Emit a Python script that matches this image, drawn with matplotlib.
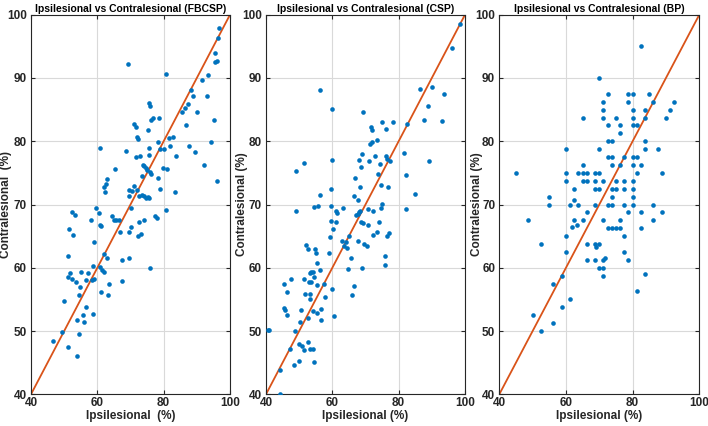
import numpy as np
import matplotlib.pyplot as plt

plt.rcParams['font.family'] = ['Liberation Sans', 'DejaVu Sans']

# ---- data ----
# FBCSP
fbcsp_ipsi = [96.6, 96.3, 95.6, 95.6, 96.2, 69.3, 80.7, 93.4, 91.5, 88.2, 88.7, 93.0, 87.4, 86.4, 85.5,
              90.1, 75.5, 75.9, 76.8, 76.1, 78.5, 71.1, 71.8, 75.2, 86.8, 95.1, 82.7, 81.7, 71.9, 72.3,
              78.4, 60.9, 75.5, 78.9, 87.7, 94.3, 81.9, 80.1, 68.7, 89.4, 75.6, 72.8, 71.8, 83.8, 92.1,
              73.7, 74.2, 74.6, 65.3, 79.9, 81.1, 75.0, 75.8, 76.3, 96.2, 73.5, 78.4, 63.0, 62.6, 61.9,
              62.2, 71.0, 79.0, 83.4, 69.6, 70.5, 72.1, 69.5, 73.4, 74.2, 75.2, 74.6, 72.5, 75.6, 59.7,
              60.4, 52.4, 53.2, 58.1, 60.7, 61.0, 64.3, 64.9, 65.5, 66.5, 70.0, 77.3, 77.9, 80.7, 74.1,
              72.6, 70.2, 51.6, 52.8, 66.9, 69.5, 72.2, 73.3, 58.9, 51.2, 61.9, 63.0, 67.5, 69.4, 58.8,
              60.8, 61.3, 61.9, 75.9, 51.8, 51.1, 52.5, 53.6, 55.2, 57.2, 56.6, 58.5, 58.9, 54.7, 63.4,
              67.4, 61.0, 63.3, 54.5, 50.0, 56.5, 58.8, 55.6, 53.9, 56.0, 49.3, 54.4, 46.6, 51.1, 53.9]
fbcsp_contra = [97.9, 96.3, 94.0, 92.6, 92.7, 92.2, 90.6, 90.5, 89.7, 88.1, 87.2, 87.1, 85.9, 85.3, 84.6,
                84.6, 86.1, 85.6, 83.6, 83.3, 83.7, 82.7, 82.3, 81.8, 82.6, 83.4, 80.6, 80.5, 80.7, 80.3,
                79.8, 78.9, 78.9, 78.7, 79.2, 79.8, 79.2, 78.7, 78.5, 78.3, 77.9, 77.6, 77.5, 77.7, 76.3,
                76.3, 76.1, 75.7, 75.6, 75.7, 75.6, 75.4, 75.2, 74.8, 73.7, 74.5, 74.2, 74.1, 73.3, 72.7,
                71.9, 72.9, 72.4, 72.0, 72.3, 72.2, 72.3, 71.3, 71.5, 71.3, 71.2, 71.1, 71.3, 71.0, 69.4,
                68.7, 68.8, 68.4, 67.5, 66.7, 66.6, 68.2, 67.6, 67.6, 67.6, 69.4, 68.2, 67.9, 69.1, 67.5,
                67.2, 66.5, 66.2, 65.2, 65.6, 65.7, 65.1, 65.3, 64.0, 61.8, 62.2, 61.6, 61.3, 61.5, 60.3,
                60.2, 59.6, 59.4, 59.9, 59.2, 58.6, 58.2, 57.7, 59.3, 59.1, 58.1, 58.0, 58.2, 57.0, 57.4,
                57.9, 56.1, 55.7, 55.7, 54.7, 53.8, 52.7, 52.6, 51.8, 51.4, 49.8, 49.6, 48.4, 47.4, 46.1]

# CSP
csp_ipsi = [98.6, 96.0, 56.2, 60.0, 69.1, 86.5, 89.9, 93.8, 88.7, 87.6, 93.1, 82.5, 74.9, 78.2, 71.8,
            71.9, 76.1, 73.5, 71.5, 72.1, 68.9, 60.0, 68.0, 71.1, 73.0, 76.3, 76.5, 77.4, 81.7, 89.0,
            51.4, 49.0, 68.6, 74.4, 73.9, 82.2, 66.8, 74.6, 76.8, 68.3, 59.6, 84.8, 56.2, 66.5, 67.8,
            74.9, 74.8, 54.5, 55.8, 59.5, 63.2, 48.9, 70.7, 72.2, 82.2, 61.4, 61.1, 67.1, 67.6, 68.1,
            68.3, 59.7, 61.2, 68.5, 69.2, 70.9, 74.1, 60.1, 72.3, 73.6, 76.5, 77.0, 59.3, 65.1, 63.0,
            64.2, 63.5, 67.8, 69.5, 70.6, 52.2, 52.6, 54.7, 55.2, 58.9, 64.4, 65.7, 75.9, 76.0, 55.3,
            64.6, 68.9, 56.3, 54.1, 53.3, 53.7, 54.5, 47.5, 51.4, 52.9, 53.6, 45.3, 55.5, 57.4, 60.0,
            46.4, 51.7, 53.2, 53.4, 57.9, 66.5, 65.9, 45.5, 45.6, 46.3, 50.5, 54.1, 56.6, 55.4, 56.6,
            60.4, 52.7, 50.4, 41.0, 40.6, 48.8, 52.6, 50.1, 50.9, 51.4, 53.2, 54.2, 47.1, 50.1, 48.3,
            54.4, 44.2, 44.2]
csp_contra = [98.6, 94.8, 88.1, 85.1, 84.6, 88.3, 88.5, 87.4, 85.5, 83.4, 83.2, 82.7, 83.1, 83.0, 82.2,
              81.7, 81.9, 80.2, 79.6, 79.9, 78.0, 77.0, 77.0, 76.9, 77.6, 77.7, 77.2, 76.9, 78.1, 76.9,
              76.5, 75.3, 76.0, 76.4, 74.8, 74.6, 74.2, 73.1, 72.8, 72.7, 72.5, 71.7, 71.5, 71.3, 70.7,
              70.1, 69.4, 69.6, 69.8, 69.7, 69.5, 69.0, 69.3, 68.9, 69.3, 68.6, 69.0, 68.3, 68.5, 68.8,
              69.0, 67.4, 67.2, 67.3, 67.1, 66.8, 67.3, 66.1, 65.2, 65.6, 65.1, 65.5, 64.9, 65.1, 64.2,
              64.1, 63.5, 64.3, 63.8, 63.5, 63.6, 63.0, 62.9, 62.4, 62.4, 63.1, 61.5, 61.8, 60.4, 60.7,
              59.8, 59.9, 59.7, 59.4, 59.2, 59.3, 58.5, 58.2, 58.2, 57.7, 57.7, 57.4, 57.2, 57.4, 56.6,
              56.2, 55.9, 55.8, 55.0, 55.4, 57.1, 55.7, 53.6, 53.4, 52.5, 53.4, 53.2, 53.5, 52.8, 51.7,
              52.4, 52.0, 51.4, 50.2, 50.1, 50.0, 48.3, 47.9, 47.7, 47.0, 47.1, 47.1, 47.2, 45.2, 44.6,
              45.1, 43.9, 40.0]

# BP
bp_ipsi = [82.5, 70.0,
           72.5, 78.75, 80.0, 85.0,
           71.25, 78.75, 86.25, 92.5,
           71.25, 80.0, 83.75, 91.25,
           65.0, 71.25, 75.0, 80.0, 83.75, 90.0,
           72.5, 76.25, 80.0, 81.25,
           76.25,
           72.5, 73.75, 83.75,
           60.0, 70.0, 83.75, 87.5,
           72.5, 73.75, 77.5, 80.0, 81.25,
           65.0, 73.75, 76.25, 80.0, 82.5,
           45.0, 60.0, 63.75, 65.0, 66.25, 68.75, 70.0, 81.25, 88.75,
           60.0, 65.0, 66.25, 68.75, 71.25, 75.0, 77.5, 80.0,
           62.5, 68.75, 70.0, 73.75, 75.0, 77.5, 80.0,
           55.0, 73.75, 80.0,
           62.5,
           55.0, 61.25, 63.75, 68.75, 72.5, 73.75, 77.5, 80.0, 86.25,
           66.25, 78.75, 82.5, 88.75,
           48.75, 62.5, 65.0, 71.25, 76.25, 86.25,
           63.3, 61.8,
           72.5, 73.75, 75.0, 76.25, 82.5,
           60.0, 77.5,
           52.5, 66.25, 68.75, 70.0,
           69.0,
           60.0, 77.5,
           66.25, 68.75, 71.25, 78.75,
           71.6,
           70.0, 71.25,
           58.75, 71.25,
           83.75, 56.25, 81.25, 61.25, 58.75, 50.0, 56.25, 52.5]
bp_contra = [95.0, 90.0,
             87.5, 87.5, 87.5, 87.5,
             86.25, 86.25, 86.25, 86.25,
             85.0, 85.0, 85.0, 85.0,
             83.75, 83.75, 83.75, 83.75, 83.75, 83.75,
             82.5, 82.5, 82.5, 82.5,
             81.25,
             80.0, 80.0, 80.0,
             78.75, 78.75, 78.75, 78.75,
             77.5, 77.5, 77.5, 77.5, 77.5,
             76.25, 76.25, 76.25, 76.25, 76.25,
             75.0, 75.0, 75.0, 75.0, 75.0, 75.0, 75.0, 75.0, 75.0,
             73.75, 73.75, 73.75, 73.75, 73.75, 73.75, 73.75, 73.75,
             72.5, 72.5, 72.5, 72.5, 72.5, 72.5, 72.5,
             71.25, 71.25, 71.25,
             70.7,
             70.0, 70.0, 70.0, 70.0, 70.0, 70.0, 70.0, 70.0, 70.0,
             68.75, 68.75, 68.75, 68.75,
             67.5, 67.5, 67.5, 67.5, 67.5, 67.5,
             66.7, 66.5,
             66.25, 66.25, 66.25, 66.25, 66.25,
             65.0, 65.0,
             63.75, 63.75, 63.75, 63.75,
             63.3,
             62.5, 62.5,
             61.25, 61.25, 61.25, 61.25,
             61.6,
             60.0, 60.0,
             58.75, 58.75,
             59.0, 57.5, 56.25, 55.0, 53.75, 52.5, 51.25, 50.0]

panels = [
    ("Ipsilesional vs Contralesional (FBCSP)", fbcsp_ipsi, fbcsp_contra,
     "Ipsilesional  (%)", "Contralesional  (%)"),
    ("Ipsilesional vs Contralesional (CSP)", csp_ipsi, csp_contra,
     "Ipsilesional (%)", "Contralesional (%)"),
    ("Ipsilesional vs Contralesional (BP)", bp_ipsi, bp_contra,
     "Ipsilesional (%)", "Contralesional (%)"),
]

# axes boxes in figure fractions (left, right); right edge of y labels in pixels
lefts = [31 / 708, 266 / 708, 499.3 / 708]
rights = [230 / 708, 465 / 708, 699.3 / 708]
ylab_px = [12.5, 248, 483]
bottom = 1 - 394.3 / 426
top = 1 - 14.7 / 426

dot_color = '#0072BD'
line_color = '#D95319'
text_color = '#262626'

fig = plt.figure(figsize=(7.08, 4.26), dpi=100)

for (title, ipsi, contra, xlab, ylab), l, r, yp in zip(panels, lefts, rights, ylab_px):
    ax = fig.add_axes([l, bottom, r - l, top - bottom])
    ax.plot([40, 100], [40, 100], color=line_color, linewidth=1.3, zorder=2)
    ax.scatter(ipsi, contra, s=11, color=dot_color, linewidths=0, zorder=3)
    ax.set_xlim(40, 100)
    ax.set_ylim(40, 100)
    ax.set_xticks([40, 60, 80, 100])
    ax.set_yticks(np.arange(40, 101, 10))
    ax.grid(True, color='#d9d9d9', linewidth=0.8)
    ax.set_axisbelow(True)
    ax.tick_params(direction='in', top=True, right=True, length=3, width=0.8,
                   labelsize=8.5, colors=text_color, pad=3)
    ax.tick_params(axis='x', pad=2)
    for lbl in ax.get_xticklabels() + ax.get_yticklabels():
        lbl.set_fontweight('bold')
    for sp in ax.spines.values():
        sp.set_color(text_color)
        sp.set_linewidth(0.8)
    ax.set_title(title, fontsize=7.5, fontweight='bold', color='black', pad=2)
    ax.set_xlabel(xlab, fontsize=8.5, fontweight='bold', color=text_color)
    ax.set_ylabel(ylab, fontsize=8.5, fontweight='bold', color=text_color)
    # place labels where the reference has them
    w_px = (r - l) * 708
    h_px = (top - bottom) * 426
    ax.xaxis.set_label_coords(0.5, -(410.5 - 394.3) / h_px)
    ax.yaxis.set_label_coords((yp - l * 708) / w_px, 0.5)

fig.savefig('out.png', dpi=100)
